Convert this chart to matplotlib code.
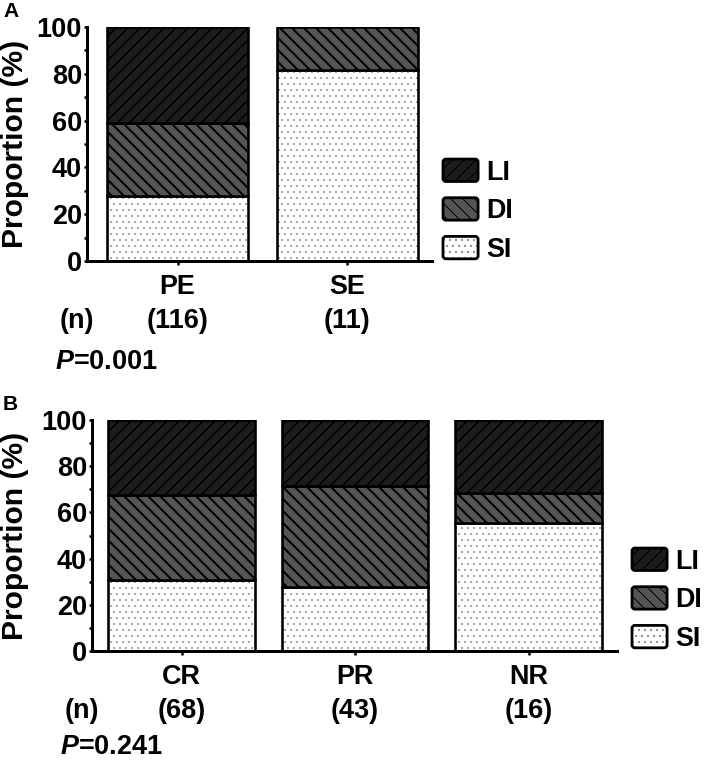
import matplotlib
matplotlib.use("Agg")
import matplotlib.pyplot as plt
from matplotlib.patches import Patch, FancyBboxPatch
from matplotlib.legend_handler import HandlerPatch, HandlerTuple
from matplotlib.ticker import MultipleLocator

plt.rcParams['font.family'] = ['Liberation Sans', 'DejaVu Sans']
plt.rcParams['font.weight'] = 'bold'
plt.rcParams['mathtext.fontset'] = 'custom'
plt.rcParams['mathtext.it'] = 'Liberation Sans:italic:bold'
plt.rcParams['mathtext.rm'] = 'Liberation Sans:bold'

# figure is 709 x 762 px, dpi 72 so 1 pt == 1 px
W, H = 709, 762
DPI = 72
FS = 27

# panel A
groups_a = ['PE', 'SE']
n_a = [116, 11]
si_a = [27.6, 81.8]
di_a = [31.5, 18.2]
li_a = [40.9, 0.0]
p_a = '0.001'

# panel B
groups_b = ['CR', 'PR', 'NR']
n_b = [68, 43, 16]
si_b = [30.6, 27.5, 55.3]
di_b = [36.9, 43.9, 13.1]
li_b = [32.5, 28.6, 31.6]
p_b = '0.241'

layers = ['SI', 'DI', 'LI']
fills = {'SI': 'white', 'DI': '#555555', 'LI': '#1c1c1c'}
hatches = {'SI': '..', 'DI': '\\\\', 'LI': '//'}
hatch_cols = {'SI': '#8c8c8c', 'DI': 'black', 'LI': 'black'}
hatch_lw = {'SI': 0.7, 'DI': 2.0, 'LI': 1.5}


def fx(x):
    return x / W


def fy(y):
    return 1 - y / H


def rounded_box(legend, orig_handle, xdescent, ydescent, width, height, fontsize):
    return FancyBboxPatch((-xdescent, -ydescent), width, height,
                          boxstyle="round,pad=0,rounding_size=3")


def draw_panel(fig, box, xlim, width, groups, counts, stacks, pval, letter,
               leg_x, leg_y, p_off):
    left, top, right, bottom = box
    ax = fig.add_axes([fx(left), fy(bottom), fx(right) - fx(left), fy(top) - fy(bottom)])
    x = list(range(len(groups)))
    base = [0.0] * len(groups)
    handles = {}
    for name in layers:
        vals = stacks[name]
        with plt.rc_context({'hatch.linewidth': hatch_lw[name]}):
            ax.bar(x, vals, width, bottom=base, color=fills[name],
                   edgecolor=hatch_cols[name], hatch=hatches[name], linewidth=0)
            hp = Patch(facecolor=fills[name], edgecolor=hatch_cols[name],
                       hatch=hatches[name], linewidth=0)
        for xi, v, b in zip(x, vals, base):
            if v > 0:
                ax.bar(xi, v, width, bottom=b, fill=False, edgecolor='black',
                       linewidth=2.6)
        op = Patch(facecolor='none', edgecolor='black', linewidth=2.8)
        handles[name] = (hp, op)
        base = [b + v for b, v in zip(base, vals)]

    ax.set_xlim(*xlim)
    ax.set_ylim(0, 100)
    ax.yaxis.set_major_locator(MultipleLocator(20))
    ax.yaxis.set_minor_locator(MultipleLocator(10))
    for s in ['top', 'right']:
        ax.spines[s].set_visible(False)
    for s in ['left', 'bottom']:
        ax.spines[s].set_linewidth(3)
    ax.tick_params(axis='y', which='both', length=3, width=2.5, pad=2,
                   labelsize=FS)
    ax.tick_params(axis='x', length=4, width=2.5, pad=9, labelsize=FS)
    ax.set_xticks(x)
    ax.set_xticklabels(groups)

    # counts under each group
    ny = (bottom + 60 - top) / (bottom - top)
    for xi, n in zip(x, counts):
        ax.text(xi, 1 - ny, f"({n})", transform=ax.get_xaxis_transform(),
                ha='center', va='center', fontsize=FS)
    fig.text(fx(left - 10), fy(bottom + 60), "(n)", ha='center', va='center',
             fontsize=FS)
    fig.text(fx(left - 32), fy(bottom + p_off), r"$P$=" + pval, ha='left',
             va='center', fontsize=FS)
    fig.text(fx(3), fy(top - 25), letter, ha='left', va='top', fontsize=21)
    fig.text(fx(15), fy((top + bottom) / 2), "Proportion (%)", rotation=90,
             ha='center', va='center', fontsize=30)

    order = ['LI', 'DI', 'SI']
    ax.legend([handles[k] for k in order], order,
              handler_map={Patch: HandlerPatch(patch_func=rounded_box),
                           tuple: HandlerTuple(ndivide=1, pad=0)},
              loc='center left', bbox_to_anchor=(fx(leg_x), fy(leg_y)),
              bbox_transform=fig.transFigure, frameon=False,
              fontsize=FS, handlelength=1.3, handleheight=0.9,
              labelspacing=0.45, handletextpad=0.3, borderpad=0,
              borderaxespad=0)
    return ax


fig = plt.figure(figsize=(W / DPI, H / DPI), dpi=DPI)

draw_panel(fig, (87, 27, 432, 261), (-0.534, 1.50), 0.83, groups_a, n_a,
           {'SI': si_a, 'DI': di_a, 'LI': li_a}, p_a, 'A', 443, 211, 101)
draw_panel(fig, (92, 420, 617, 651), (-0.516, 2.51), 0.847, groups_b, n_b,
           {'SI': si_b, 'DI': di_b, 'LI': li_b}, p_b, 'B', 632, 600, 96)

fig.savefig("out.png", dpi=DPI)
